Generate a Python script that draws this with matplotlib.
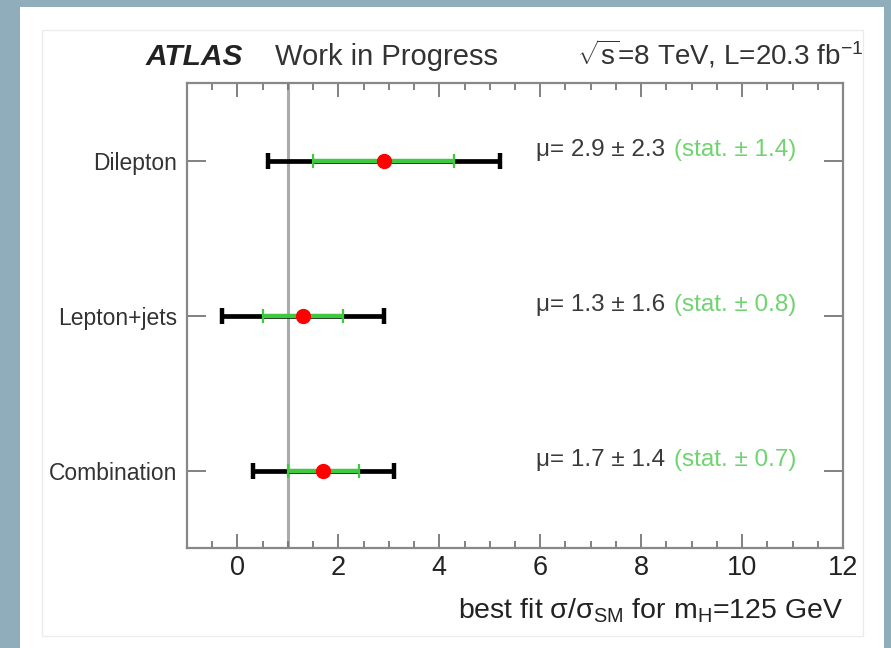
import matplotlib.pyplot as plt
from matplotlib.patches import Rectangle
from matplotlib.ticker import MultipleLocator

plt.rcParams['font.family'] = ['Liberation Sans', 'DejaVu Sans']
plt.rcParams['mathtext.fontset'] = 'custom'
plt.rcParams['mathtext.rm'] = 'Liberation Sans'
plt.rcParams['mathtext.it'] = 'Liberation Sans:italic'

# fit results: central value, total and statistical uncertainty
channels = ['Combination', 'Lepton+jets', 'Dilepton']
mu = [1.7, 1.3, 2.9]
total_err = [1.4, 1.6, 2.3]
stat_err = [0.7, 0.8, 1.4]
sm_value = 1.0

fig = plt.figure(figsize=(8.91, 6.48), dpi=100)
fig.patch.set_facecolor('#8fadbb')

# white slide panel with a faint inner frame
fig.add_artist(Rectangle((0.0224, 0.0), 0.9696, 0.989, transform=fig.transFigure,
                         facecolor='white', edgecolor='none', zorder=0))
fig.add_artist(Rectangle((0.0471, 0.0185), 0.9215, 0.9352, transform=fig.transFigure,
                         facecolor='none', edgecolor='#ececec', lw=1.0, zorder=1))

ax = fig.add_axes([0.2099, 0.1543, 0.7362, 0.7176])
ax.set_facecolor('white')

y = list(range(len(channels)))
ax.axvline(sm_value, color='#aaaaaa', lw=2.2, zorder=1)

ax.errorbar(mu, y, xerr=total_err, fmt='none', ecolor='black',
            elinewidth=3.4, capsize=6, capthick=3.2, zorder=2)
ax.errorbar(mu, y, xerr=stat_err, fmt='none', ecolor='#3ec93e',
            elinewidth=3.2, capsize=5, capthick=1.6, zorder=3)
ax.plot(mu, y, 'o', color='red', markersize=10, zorder=4)

for yi, m, t, s in zip(y, mu, total_err, stat_err):
    ax.text(5.92, yi + 0.065, f'\u03bc= {m:.1f} \u00b1 {t:.1f}', fontsize=17.5,
            color='#3a3a3a', ha='left', va='center')
    ax.text(8.65, yi + 0.065, f'(stat. \u00b1 {s:.1f})', fontsize=17.5,
            color='#6fd46f', ha='left', va='center')

ax.set_xlim(-1, 12)
ax.set_ylim(-0.5, 2.5)
ax.xaxis.set_major_locator(MultipleLocator(2))
ax.xaxis.set_minor_locator(MultipleLocator(0.5))
ax.set_yticks(y)
ax.set_yticklabels(channels)

ax.tick_params(axis='x', which='major', direction='in', length=10, width=1.3,
               color='#777777', top=True, labelsize=19.5, labelcolor='#222222', pad=5)
ax.tick_params(axis='x', which='minor', direction='in', length=5, width=1.3,
               color='#777777', top=True)
ax.tick_params(axis='y', which='major', direction='in', length=14, width=1.3,
               color='#777777', right=True, labelsize=16.5, labelcolor='#333333', pad=7)
for sp in ax.spines.values():
    sp.set_color('#888888')
    sp.set_linewidth(1.6)

ax.set_xlabel('best fit \u03c3/\u03c3$_{\\mathrm{SM}}$ for m$_{\\mathrm{H}}$=125 GeV',
              fontsize=20.5, color='#222222', ha='right', va='top')
ax.xaxis.set_label_coords(1.0, -0.105)

fig.text(0.163, 0.8997, 'ATLAS', fontsize=21.5, fontweight='bold', fontstyle='italic',
         color='#222222', va='baseline')
fig.text(0.309, 0.8997, 'Work in Progress', fontsize=21, color='#333333', va='baseline')
fig.text(0.969, 0.8997, '$\\sqrt{\\mathrm{s}}$=8 TeV, L=20.3 fb$^{-1}$', fontsize=20,
         color='#333333', ha='right', va='baseline')

fig.savefig('out.png', dpi=100, facecolor=fig.get_facecolor())
